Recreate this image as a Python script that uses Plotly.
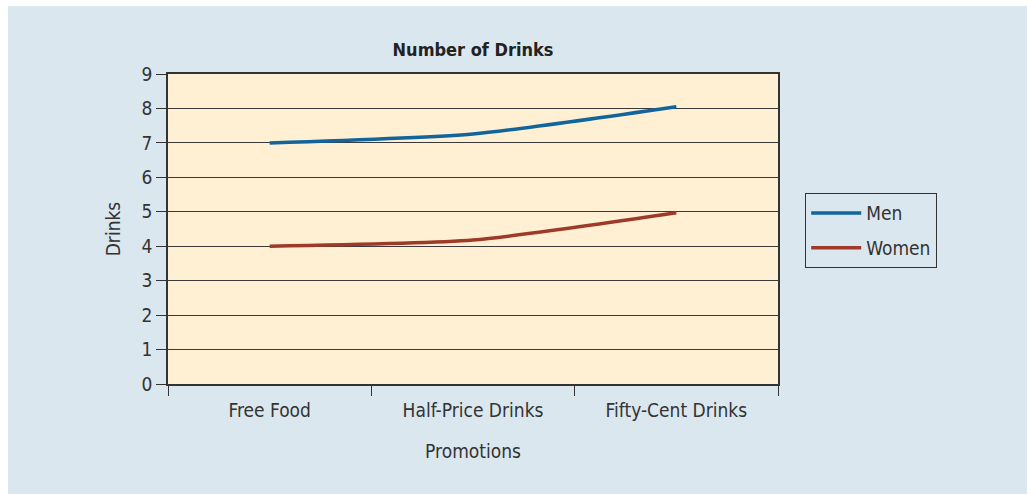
import plotly.graph_objects as go

# Promotion categories and average drinks per person
promotions = ["Free Food", "Half-Price Drinks", "Fifty-Cent Drinks"]
men_drinks = [7.0, 7.26, 8.05]
women_drinks = [4.0, 4.18, 4.97]
y_ticks = [0, 1, 2, 3, 4, 5, 6, 7, 8, 9]

FONT = "Liberation Sans Narrow, DejaVu Sans Condensed, Arial Narrow, sans-serif"
TEXT = "#333333"
BG = "#dbe7ef"
SIZE = 19

# plot-area geometry in pixels (used to place the white frame strips)
W, H = 1027, 494
L, R, T, B = 168, 249, 74, 110
pw, ph = W - L - R, H - T - B


def px_x(v):
    return (v - L) / pw


def px_y(v):
    return (H - B - v) / ph


fig = go.Figure()
fig.add_trace(go.Scatter(
    x=promotions, y=men_drinks, name="Men", mode="lines", legendgroup="men",
    line=dict(color="#11649c", width=3.5, shape="spline", smoothing=0.6),
))
fig.add_trace(go.Scatter(
    x=promotions, y=women_drinks, name="Women", mode="lines", legendgroup="women",
    line=dict(color="#9e3a29", width=3.5, shape="spline", smoothing=0.6),
))

shapes = [
    # thin white strips along the top and left edges of the page
    dict(type="rect", xref="paper", yref="paper",
         x0=px_x(0), x1=px_x(W), y0=px_y(6), y1=px_y(0),
         fillcolor="white", line_width=0, layer="below"),
    dict(type="rect", xref="paper", yref="paper",
         x0=px_x(0), x1=px_x(8), y0=px_y(H), y1=px_y(0),
         fillcolor="white", line_width=0, layer="below"),
]

fig.update_layout(
    width=W, height=H,
    margin=dict(l=L, r=R, t=T, b=B, pad=0),
    paper_bgcolor=BG,
    plot_bgcolor="#fff0d4",
    font=dict(family=FONT, size=SIZE, color=TEXT),
    title=dict(text="<b>Number of Drinks</b>", xref="container", x=473 / W,
               xanchor="center", yref="container", y=1 - 50 / H,
               yanchor="middle",
               font=dict(family=FONT, size=18, color="#222222")),
    shapes=shapes,
    showlegend=True,
    legend=dict(x=px_x(805), y=px_y(193), xanchor="left", yanchor="top",
                bgcolor=BG, bordercolor="#333333", borderwidth=1.2,
                font=dict(family=FONT, size=SIZE, color=TEXT),
                tracegroupgap=7, itemwidth=50),
)

fig.update_xaxes(
    type="category", range=[-0.5, 2.5],
    showline=True, linecolor="#333333", linewidth=1.5, mirror=True,
    showgrid=False, ticks="outside", tickson="boundaries",
    ticklen=10, tickcolor="#333333", tickwidth=1.2,
    ticklabelstandoff=8,
    tickfont=dict(family=FONT, size=SIZE, color=TEXT),
    title=dict(text="Promotions", standoff=25,
               font=dict(family=FONT, size=SIZE, color=TEXT)),
)
fig.update_yaxes(
    range=[0, 9], tickvals=y_ticks,
    showline=True, linecolor="#333333", linewidth=1.5, mirror=True,
    showgrid=True, gridcolor="#3a3a3a", gridwidth=1.2,
    zeroline=False,
    ticks="outside", ticklen=10, tickcolor="#333333", tickwidth=1.2,
    tickfont=dict(family=FONT, size=SIZE, color=TEXT),
    title=dict(text="Drinks", standoff=16,
               font=dict(family=FONT, size=SIZE, color=TEXT)),
)

fig.write_html("out.html")
